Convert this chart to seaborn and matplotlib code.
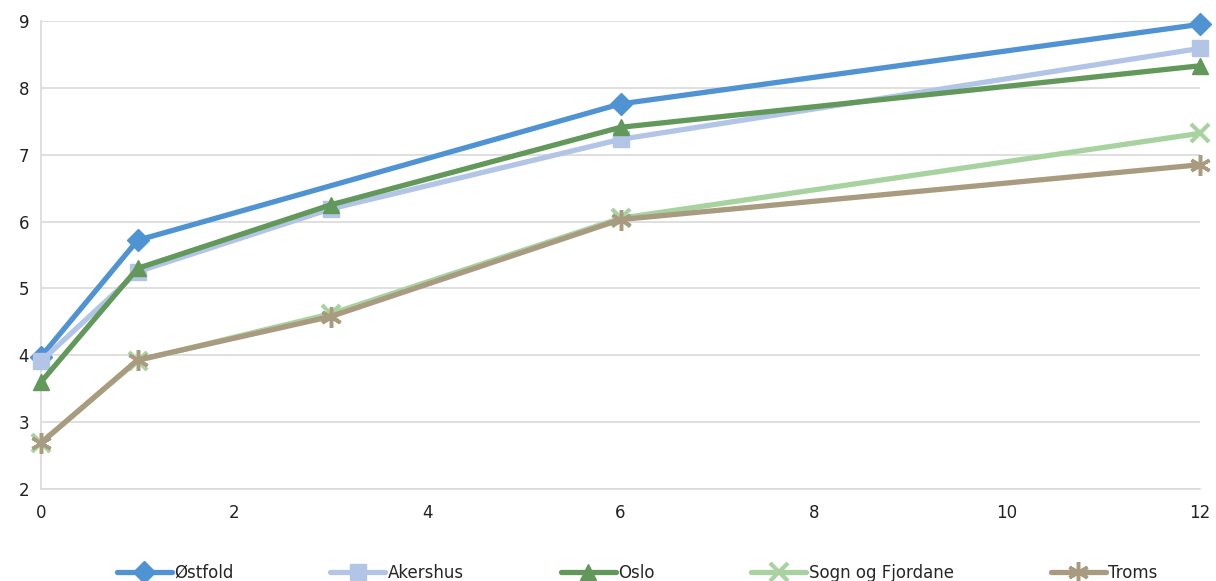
import matplotlib
matplotlib.use("Agg")

import matplotlib.pyplot as plt
import seaborn as sns
import pandas as pd

# ── Data ─────────────────────────────────────────────────────────────────────
x_full = [0, 1, 3, 6, 12]
x_ostfold = [0, 1, 6, 12]

ostfold = [3.98, 5.72, 7.76, 8.95]
akershus = [3.91, 5.25, 6.19, 7.23, 8.59]
oslo = [3.60, 5.30, 6.25, 7.41, 8.33]
sogn = [2.69, 3.92, 4.62, 6.05, 7.32]
troms = [2.69, 3.93, 4.58, 6.03, 6.85]

x_ticks = [0, 2, 4, 6, 8, 10, 12]
y_ticks = [2, 3, 4, 5, 6, 7, 8, 9]

series = [
    ("Østfold", x_ostfold, ostfold, "#4f93d2", "D", 11, 1.0),
    ("Akershus", x_full, akershus, "#b3c5e6", "s", 11, 1.0),
    ("Oslo", x_full, oslo, "#62995a", "^", 12, 1.0),
    ("Sogn og Fjordane", x_full, sogn, "#a8d3a0", "x", 13, 3.0),
    ("Troms", x_full, troms, "#a99b7f", (6, 2, 0), 15, 2.5),
]

sns.set_theme(style="white")
plt.rcParams["font.family"] = ["DejaVu Sans"]

fig = plt.figure(figsize=(12.16, 5.81), dpi=100)
ax = fig.add_axes([41 / 1216, 1 - 489 / 581, (1200 - 41) / 1216, (489 - 21) / 581])

for name, xs, ys, color, marker, ms, mew in series:
    df = pd.DataFrame({"x": xs, "y": ys})
    sns.lineplot(
        data=df, x="x", y="y", ax=ax,
        color=color, linewidth=3.8,
        marker=marker, markersize=ms,
        markeredgecolor=color, markeredgewidth=mew,
        label=name, zorder=3, clip_on=False,
    )

ax.set_xlim(0, 12)
ax.set_ylim(2, 9)
ax.set_xticks(x_ticks)
ax.set_yticks(y_ticks)
ax.set_xlabel("")
ax.set_ylabel("")
ax.yaxis.grid(True, color="#d9d9d9", linewidth=1.2)
ax.xaxis.grid(False)
for side in ["top", "right"]:
    ax.spines[side].set_visible(False)
for side in ["left", "bottom"]:
    ax.spines[side].set_color("#d9d9d9")
    ax.spines[side].set_linewidth(1.2)
ax.tick_params(axis="both", which="both", length=5, width=1.2, color="#d9d9d9",
               labelsize=12, labelcolor="#222222")
ax.tick_params(axis="x", pad=6)

ax.get_legend().remove()
handles, labels = ax.get_legend_handles_labels()
fig.legend(
    handles, labels, ncol=5, loc="upper center",
    bbox_to_anchor=(0.524, 0.055), frameon=False,
    fontsize=12, handlelength=3.3, handletextpad=0.15, columnspacing=5.8,
)

fig.savefig("out.png", dpi=100)
plt.close(fig)
